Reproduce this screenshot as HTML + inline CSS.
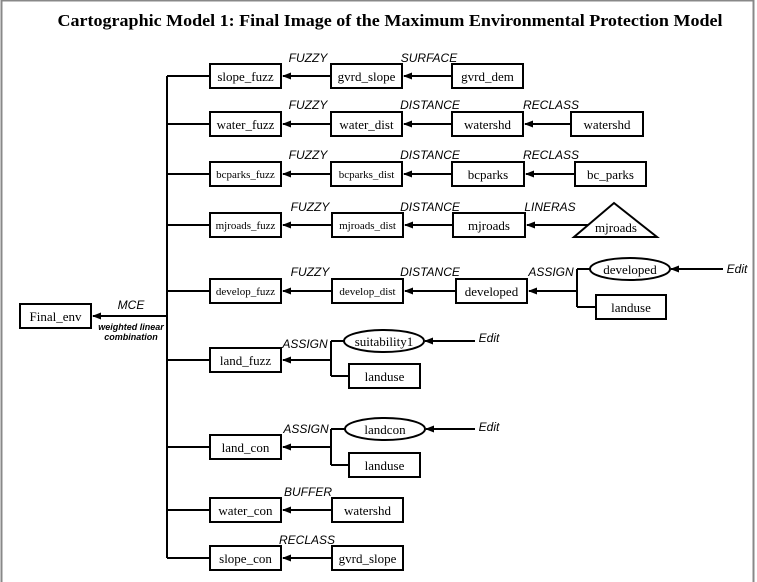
<!DOCTYPE html>
<html><head><style>body{margin:0;background:#fff}svg{display:block}
.b{fill:#fff;stroke:#000;stroke-width:2}
.t{font-family:"Liberation Serif",serif;font-size:13px;text-anchor:middle}
.s{font-family:"Liberation Serif",serif;font-size:11px;text-anchor:middle}
.l{font-family:"Liberation Sans",sans-serif;font-size:12px;font-style:italic;text-anchor:middle}
.ln{stroke:#000;stroke-width:2;fill:none}
</style></head><body>
<svg width="757" height="582" viewBox="0 0 757 582" xmlns="http://www.w3.org/2000/svg">
<defs><marker id="a" markerWidth="9" markerHeight="7" refX="8" refY="3.5" orient="auto" markerUnits="userSpaceOnUse"><path d="M0,0 L9,3.5 L0,7 Z" style="fill:#000;stroke:none"/></marker></defs>
<rect x="0" y="0" width="757" height="582" fill="#fff"/>
<path d="M1.5,582 V0.5 H753.5 V582" stroke="#888" stroke-width="2" fill="none"/>
<text x="390" y="26" font-family="Liberation Serif,serif" font-weight="bold" font-size="17" text-anchor="middle" textLength="665" lengthAdjust="spacingAndGlyphs">Cartographic Model 1: Final Image of the Maximum Environmental Protection Model</text>

<g class="ln">
<path d="M167,76 V558"/>
<path d="M167,76 H210 M167,124 H210 M167,174 H210 M167,225 H210 M167,291 H210 M167,360 H210 M167,447 H210 M167,510 H210 M167,558 H210"/>
<path d="M167,316 H93" marker-end="url(#a)"/>
<path d="M331,76 H283" marker-end="url(#a)"/>
<path d="M331,124 H283" marker-end="url(#a)"/>
<path d="M331,174 H283" marker-end="url(#a)"/>
<path d="M332,225 H283" marker-end="url(#a)"/>
<path d="M332,291 H283" marker-end="url(#a)"/>
<path d="M331,360 H283" marker-end="url(#a)"/>
<path d="M331,447 H283" marker-end="url(#a)"/>
<path d="M332,510 H283" marker-end="url(#a)"/>
<path d="M332,558 H283" marker-end="url(#a)"/>
<path d="M452,76 H404" marker-end="url(#a)"/>
<path d="M452,124 H404" marker-end="url(#a)"/>
<path d="M452,174 H404" marker-end="url(#a)"/>
<path d="M453,225 H405" marker-end="url(#a)"/>
<path d="M456,291 H405" marker-end="url(#a)"/>
<path d="M571,124 H525" marker-end="url(#a)"/>
<path d="M575,174 H526" marker-end="url(#a)"/>
<path d="M594,225 H527" marker-end="url(#a)"/>
<path d="M577,291 H529" marker-end="url(#a)"/>
<path d="M577,269 V307 M577,269 H590 M577,307 H596"/>
<path d="M723,269 H671" marker-end="url(#a)"/>
<path d="M331,341 V376 M331,341 H344 M331,376 H349"/>
<path d="M331,429 V465 M331,429 H345 M331,465 H349"/>
<path d="M475,341 H425" marker-end="url(#a)"/>
<path d="M475,429 H426" marker-end="url(#a)"/>
</g>

<g>
<rect class="b" x="20" y="304" width="71" height="24"/><text class="t" x="55.5" y="321">Final_env</text>
<rect class="b" x="210" y="64" width="71" height="24"/><text class="t" x="245.5" y="81">slope_fuzz</text>
<rect class="b" x="210" y="112" width="71" height="24"/><text class="t" x="245.5" y="129">water_fuzz</text>
<rect class="b" x="210" y="162" width="71" height="24"/><text class="s" x="245.5" y="178">bcparks_fuzz</text>
<rect class="b" x="210" y="213" width="71" height="24"/><text class="s" x="245.5" y="229">mjroads_fuzz</text>
<rect class="b" x="210" y="279" width="71" height="24"/><text class="s" x="245.5" y="295">develop_fuzz</text>
<rect class="b" x="210" y="348" width="71" height="24"/><text class="t" x="245.5" y="365">land_fuzz</text>
<rect class="b" x="210" y="435" width="71" height="24"/><text class="t" x="245.5" y="452">land_con</text>
<rect class="b" x="210" y="498" width="71" height="24"/><text class="t" x="245.5" y="515">water_con</text>
<rect class="b" x="210" y="546" width="71" height="24"/><text class="t" x="245.5" y="563">slope_con</text>

<rect class="b" x="331" y="64" width="71" height="24"/><text class="t" x="366.5" y="81">gvrd_slope</text>
<rect class="b" x="331" y="112" width="71" height="24"/><text class="t" x="366.5" y="129">water_dist</text>
<rect class="b" x="331" y="162" width="71" height="24"/><text class="s" x="366.5" y="178">bcparks_dist</text>
<rect class="b" x="332" y="213" width="71" height="24"/><text class="s" x="367.5" y="229">mjroads_dist</text>
<rect class="b" x="332" y="279" width="71" height="24"/><text class="s" x="367.5" y="295">develop_dist</text>
<rect class="b" x="332" y="498" width="71" height="24"/><text class="t" x="367.5" y="515">watershd</text>
<rect class="b" x="332" y="546" width="71" height="24"/><text class="t" x="367.5" y="563">gvrd_slope</text>

<rect class="b" x="452" y="64" width="71" height="24"/><text class="t" x="487.5" y="81">gvrd_dem</text>
<rect class="b" x="452" y="112" width="71" height="24"/><text class="t" x="487.5" y="129">watershd</text>
<rect class="b" x="452" y="162" width="72" height="24"/><text class="t" x="488" y="179">bcparks</text>
<rect class="b" x="453" y="213" width="72" height="24"/><text class="t" x="489" y="230">mjroads</text>
<rect class="b" x="456" y="279" width="71" height="24"/><text class="t" x="491.5" y="296">developed</text>

<rect class="b" x="571" y="112" width="72" height="24"/><text class="t" x="607" y="129">watershd</text>
<rect class="b" x="575" y="162" width="71" height="24"/><text class="t" x="610.5" y="179">bc_parks</text>
<path d="M574,237 L614,203 L657,237 Z" class="b"/><text class="t" x="616" y="232">mjroads</text>
<ellipse class="b" cx="630" cy="269" rx="40" ry="11"/><text class="t" x="630" y="274">developed</text>
<rect class="b" x="596" y="295" width="70" height="24"/><text class="t" x="631" y="312">landuse</text>

<ellipse class="b" cx="384" cy="341" rx="40" ry="11"/><text class="t" x="384" y="346">suitability1</text>
<rect class="b" x="349" y="364" width="71" height="24"/><text class="t" x="384.5" y="381">landuse</text>
<ellipse class="b" cx="385" cy="429" rx="40" ry="11"/><text class="t" x="385" y="434">landcon</text>
<rect class="b" x="349" y="453" width="71" height="24"/><text class="t" x="384.5" y="470">landuse</text>
</g>

<g class="l">
<text x="308" y="62">FUZZY</text><text x="429" y="62">SURFACE</text>
<text x="308" y="109">FUZZY</text><text x="430" y="109">DISTANCE</text><text x="551" y="109">RECLASS</text>
<text x="308" y="159">FUZZY</text><text x="430" y="159">DISTANCE</text><text x="551" y="159">RECLASS</text>
<text x="310" y="211">FUZZY</text><text x="430" y="211">DISTANCE</text><text x="550" y="211">LINERAS</text>
<text x="310" y="276">FUZZY</text><text x="430" y="276">DISTANCE</text><text x="551" y="276">ASSIGN</text>
<text x="737" y="273">Edit</text>
<text x="131" y="309">MCE</text>
<text x="131" y="330" font-size="9" font-weight="bold">weighted linear</text>
<text x="131" y="340" font-size="9" font-weight="bold">combination</text>
<text x="305" y="348">ASSIGN</text><text x="489" y="342">Edit</text>
<text x="306" y="433">ASSIGN</text><text x="489" y="431">Edit</text>
<text x="308" y="496">BUFFER</text>
<text x="307" y="544">RECLASS</text>
</g>
</svg>
</body></html>
